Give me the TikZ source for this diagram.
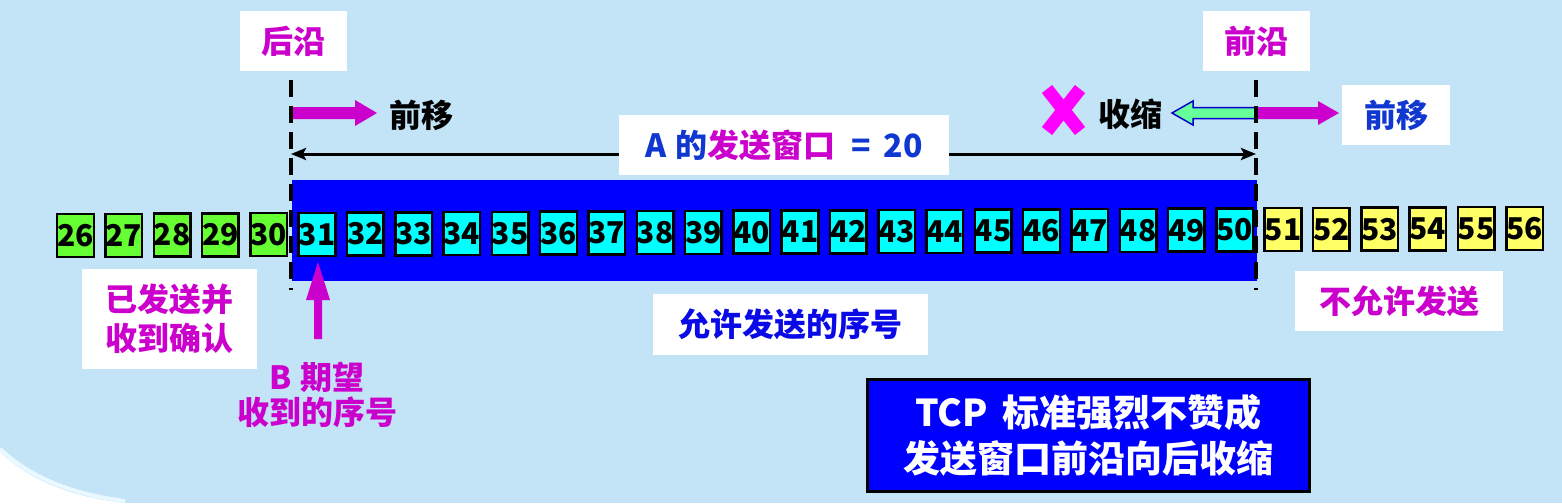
\documentclass[tikz,border=0pt]{standalone}
\usepackage{fontspec}
\setmainfont{Noto Sans CJK SC}
\usetikzlibrary{arrows.meta}
\definecolor{bgblue}{HTML}{C3E3F7}
\definecolor{winblue}{HTML}{0000FF}
\definecolor{mag}{HTML}{CC00CC}
\definecolor{xmag}{HTML}{FF00FF}
\definecolor{tblue}{HTML}{1038D0}
\definecolor{pblue}{HTML}{0A0AE6}
\definecolor{gbox}{HTML}{66FF33}
\definecolor{cbox}{HTML}{00FFFF}
\definecolor{ybox}{HTML}{FFFF66}
\definecolor{garrow}{HTML}{66FF99}
\definecolor{glow}{HTML}{EAF8FF}
\begin{document}
\begin{tikzpicture}[x=1pt,y=-1pt,
  numbox/.style={draw=black,line width=2.5pt,inner sep=0pt,minimum width=34pt,minimum height=43pt,
    font=\fontsize{30}{30}\selectfont\bfseries},
  wbox/.style={fill=white,inner sep=0pt,align=center},
  lbl/.style={font=\fontsize{32}{38.5}\selectfont\bfseries},
  edgeline/.style={draw=black,line width=3.5pt,dash pattern=on 17pt off 9pt},
  fatmag/.style={fill=mag},
]
\useasboundingbox (0,0) rectangle (1562,503);
% background
\fill[bgblue] (0,0) rectangle (1562,503);
\fill[white] (0,452) .. controls (30,480) and (70,497) .. (125,503) -- (0,503) -- cycle;
\draw[glow,line width=4pt] (0,449) .. controls (30,477) and (70,494) .. (125,501);

% window rectangle
\fill[winblue] (292,180) rectangle (1257,281);

% numbered boxes
\foreach \n in {26,...,30}{
  \node[numbox,fill=gbox] (b\n) at ({75.5+(\n-26)*48.3},{235.5-(\n-26)*0.233}) {\n};
}
\foreach \n in {31,...,50}{
  \node[numbox,fill=cbox] (b\n) at ({75.5+(\n-26)*48.3},{235.5-(\n-26)*0.233}) {\n};
}
\foreach \n in {51,...,56}{
  \node[numbox,fill=ybox] (b\n) at ({75.5+(\n-26)*48.3},{235.5-(\n-26)*0.233}) {\n};
}

% coordinates of edges
\coordinate (Lt) at (291,80);
\coordinate (Lb) at (291,290);
\coordinate (Rt) at (1256,80);
\coordinate (Rb) at (1256,290);
\coordinate (Lw) at (291,154);
\coordinate (Rw) at (1256,154);

% window size arrow
\draw[line width=3pt,{Stealth[length=15pt,width=12pt,inset=3pt]}-{Stealth[length=15pt,width=12pt,inset=3pt]}] (Lw) -- (Rw);

% fat arrows
\fill[fatmag] (291,107) -- (355,107) -- (355,100) -- (377,113) -- (355,126) -- (355,119) -- (291,119) -- cycle;
\filldraw[fill=garrow,draw=blue!80!black,line width=1.5pt] (1256,107.5) -- (1193,107.5) -- (1193,101) -- (1172,113) -- (1193,125) -- (1193,118.5) -- (1256,118.5);
\fill[fatmag] (1256,107) -- (1318,107) -- (1318,101) -- (1339,113) -- (1318,125) -- (1318,119) -- (1256,119) -- cycle;

% up arrow
\fill[fatmag] (318,262) -- (330,300) -- (322,300) -- (322,339) -- (314,339) -- (314,300) -- (306,300) -- cycle;

% X mark
\draw[xmag,line width=13pt] (1047,89) -- (1080,131);
\draw[xmag,line width=13pt] (1080,89) -- (1047,131);

% dashed edges
\draw[edgeline] (Lt) -- (Lb);
\draw[edgeline] (Rt) -- (Rb);

% labels
\node[wbox,lbl,text=mag,minimum width=107pt,minimum height=60pt] (hy) at (293.5,41) {后沿};
\node[wbox,lbl,text=mag,minimum width=107pt,minimum height=60pt] (qy) at (1256.5,41) {前沿};
\node[lbl,text=black,inner sep=0pt] (qyl) at (421,115) {前移};
\node[lbl,text=black,inner sep=0pt] (ss) at (1130.5,114) {收缩};
\node[wbox,lbl,text=tblue,minimum width=108pt,minimum height=60pt] (qyr) at (1396,115) {前移};
\node[wbox,lbl,minimum width=330pt,minimum height=60pt] (win) at (784,145)
  {\textcolor{tblue}{A\hspace{0.3em}的}\textcolor{mag}{发送窗口}\textcolor{tblue}{\hspace{0.5em}=\hspace{0.4em}20}};
\node[wbox,lbl,text=pblue,minimum width=275pt,minimum height=61pt] (yx) at (790.5,324.5) {允许发送的序号};
\node[wbox,lbl,text=mag,minimum width=175pt,minimum height=100pt] (yfs) at (169.5,319) {已发送并\\收到确认};
\node[wbox,lbl,text=mag,minimum width=208pt,minimum height=60pt] (byx) at (1399,301) {不允许发送};
\node[lbl,text=mag,inner sep=0pt,align=center,font=\fontsize{32}{35}\selectfont\bfseries] (bq) at (317,395) {B\hspace{0.3em}期望\\收到的序号};
\node[fill=winblue,draw=black,line width=3pt,minimum width=442pt,minimum height=112pt,inner sep=0pt,
  text=white,align=center,font=\fontsize{37}{46.5}\selectfont\bfseries] (tcp) at (1088.5,435.5)
  {TCP\hspace{0.4em}标准强烈不赞成\\发送窗口前沿向后收缩};
\end{tikzpicture}
\end{document}
